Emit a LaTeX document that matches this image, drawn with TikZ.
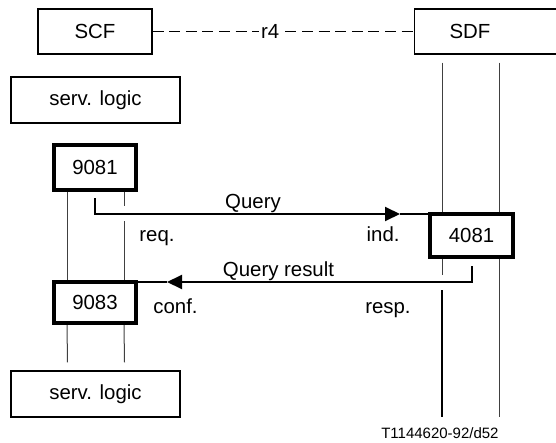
\documentclass[tikz,border=0pt]{standalone}
\usepackage{fontspec}
\setmainfont{Liberation Sans}
\usetikzlibrary{arrows.meta}
\tikzset{
  box/.style={draw, line width=0.6pt, fill=white, minimum height=22.5pt},
  prim/.style={draw, line width=2.2pt, fill=white, minimum width=41pt, minimum height=22pt},
  life/.style={line width=0.5pt, draw=black!75},
  msg/.style={line width=1pt, preaction={draw=white, line width=7.5pt, -}},
  tip/.style={-{Triangle[length=7.5pt, width=7pt]}},
  lbl/.style={inner sep=0pt}
}
\begin{document}
\begin{tikzpicture}[x=0.5pt, y=-0.5pt, font=\fontsize{10.2}{12}\selectfont]
  \useasboundingbox (0,0) rectangle (556,443);
  \clip (0,0) rectangle (556,443);

  % Define nodes
  \node[box, minimum width=57pt] (scf) at (95,31.5) {SCF};
  \node[box, minimum width=80pt, anchor=west] (sdf) at (414,31.5) {};
  \node (sdftext) at (470,31.5) {SDF};
  \node[box, minimum width=84.5pt, minimum height=23pt] (logictop) at (95.5,100) {serv. logic};
  \node[box, minimum width=84.5pt, minimum height=23pt] (logicbot) at (95.5,394) {serv. logic};
  \node[prim, minimum height=22.5pt] (n9081) at (95,167.5) {9081};
  \node[prim, minimum width=41.5pt, minimum height=21.5pt] (n4081) at (471.5,235.5) {4081};
  \node[prim, minimum height=20.5pt] (n9083) at (95,302.5) {9083};
  \coordinate (endA) at (442,417);
  \coordinate (endB) at (499,417);
  \coordinate (qtip) at (400,214);
  \coordinate (rtip) at (167,282);

  % Draw interface
  \draw[line width=0.9pt, dash pattern=on 5.5pt off 2.8pt] (scf) -- (sdf)
    node[pos=0.45, fill=white, inner sep=1pt] {r4};

  % Draw lifelines
  \draw[life] (sdf.south -| endA) ++(0,8) -- (endA);
  \draw[life] (sdf.south -| endB) ++(0,8) -- (endB);
  \draw[line width=1pt] (rtip -| endA) -- (endA);
  \foreach \dx in {-14pt,14.5pt} {
    \draw[life] ([xshift=\dx]n9081.south) -- ([xshift=\dx]n9083.north);
    \draw[life] ([xshift=\dx]n9083.south) -- ([xshift=\dx,yshift=4pt]logicbot.north);
  }

  % Draw messages
  \draw[msg] (qtip) -- (qtip -| n4081.west);
  \draw[msg, tip] ([yshift=-3pt]n9081.south) |- (qtip);
  \draw[msg] (rtip) -- (rtip -| n9083.east);
  \draw[msg, tip] ([yshift=-3.5pt]n4081.south) |- (rtip);

  % Redraw primitives on top
  \node[prim, minimum height=22.5pt] at (n9081) {9081};
  \node[prim, minimum width=41.5pt, minimum height=21.5pt] at (n4081) {4081};
  \node[prim, minimum height=20.5pt] at (n9083) {9083};

  % Labels
  \node[lbl, anchor=base] (query) at (253,208) {Query};
  \node[lbl, anchor=base west] (req) at (139,242) {req.};
  \node[lbl, anchor=base east] (ind) at (400,242) {ind.};
  \node[lbl, anchor=base] (result) at (278.5,276) {Query result};
  \node[lbl, anchor=base west] (conf) at (153,313) {conf.};
  \node[lbl, anchor=base east] (resp) at (411,313) {resp.};
  \node[lbl, anchor=base east, font=\fontsize{7.5}{9}\selectfont] (code) at (499,438) {T1144620-92/d52};
\end{tikzpicture}
\end{document}
